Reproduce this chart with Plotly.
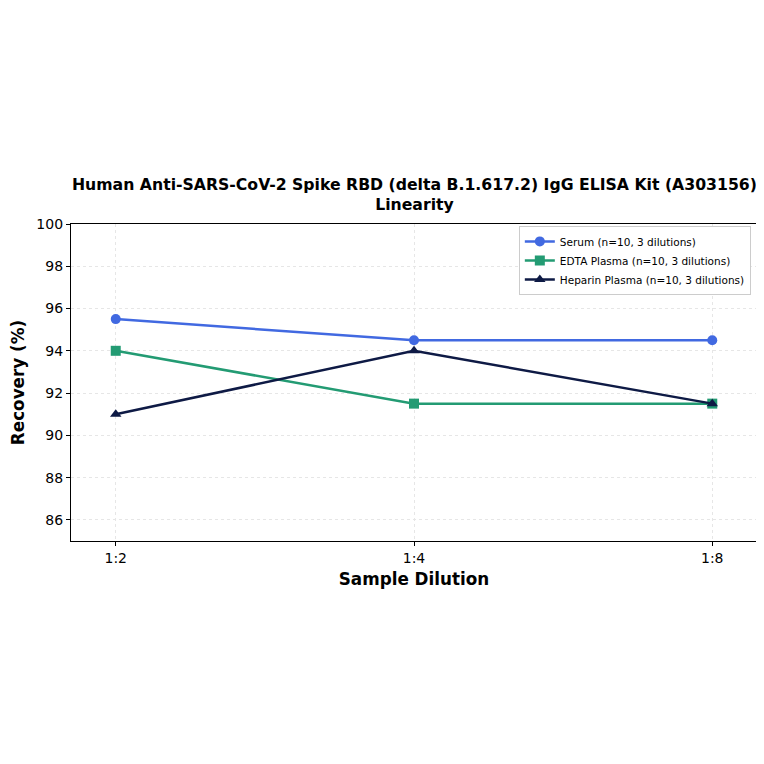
import plotly.graph_objects as go

dilutions = ["1:2", "1:4", "1:8"]
serum = [95.5, 94.5, 94.5]
edta_plasma = [94.0, 91.5, 91.5]
heparin_plasma = [91.0, 94.0, 91.5]
y_ticks = [86, 88, 90, 92, 94, 96, 98, 100]

series = [
    ("Serum (n=10, 3 dilutions)", serum, "#4169E1", "circle"),
    ("EDTA Plasma (n=10, 3 dilutions)", edta_plasma, "#239B73", "square"),
    ("Heparin Plasma (n=10, 3 dilutions)", heparin_plasma, "#0E1A45", "triangle-up"),
]

fig = go.Figure()
for name, vals, color, symbol in series:
    fig.add_trace(go.Scatter(
        x=[0, 1, 2], y=vals, name=name, mode="lines+markers",
        line=dict(color=color, width=2.5),
        marker=dict(symbol=symbol, size=10, color=color),
    ))

fig.update_layout(
    width=764, height=764,
    template="plotly_white",
    font=dict(family="DejaVu Sans", size=14, color="black"),
    title=dict(
        text="<b>Human Anti-SARS-CoV-2 Spike RBD (delta B.1.617.2) IgG ELISA Kit (A303156)<br>Linearity</b>",
        x=0.532, xanchor="center", y=0.762, yanchor="top",
        font=dict(size=15.7),
    ),
    margin=dict(l=63, r=15, t=216, b=231, autoexpand=False),
    legend=dict(
        x=0.991, y=0.994, xanchor="right", yanchor="top",
        bgcolor="white", bordercolor="#cccccc", borderwidth=1,
        font=dict(size=10.5), itemwidth=30, tracegroupgap=0,
    ),
    showlegend=True,
)
fig.update_xaxes(
    title=dict(text="<b>Sample Dilution</b>", font=dict(size=16.8), standoff=8),
    tickmode="array", tickvals=[0, 1, 2], ticktext=dilutions,
    range=[-0.15, 2.15], automargin=False,
    showline=True, linecolor="black", linewidth=1.2, mirror=True,
    ticks="outside", ticklen=4, tickcolor="black",
    showgrid=True, gridcolor="#e6e6e6", griddash="dot", zeroline=False,
)
fig.update_yaxes(
    title=dict(text="<b>Recovery (%)</b>", font=dict(size=16.8), standoff=10),
    tickvals=y_ticks, range=[85, 100], automargin=False,
    showline=True, linecolor="black", linewidth=1.2, mirror=True,
    ticks="outside", ticklen=4, tickcolor="black",
    showgrid=True, gridcolor="#e6e6e6", griddash="dot", zeroline=False,
)

fig.write_html("out.html")
